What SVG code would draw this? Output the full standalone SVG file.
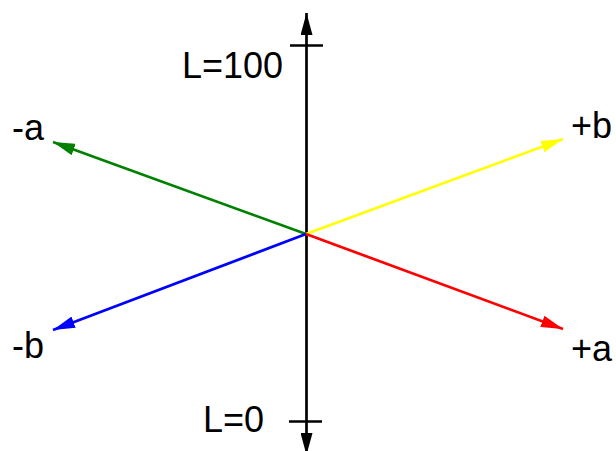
<svg xmlns="http://www.w3.org/2000/svg" width="616" height="451" viewBox="0 0 616 451">
<style>
.lbl{font-family:"Liberation Sans",Arial,sans-serif;font-size:36px;fill:#000}
.ax{stroke-width:2.7;fill:none}
</style>
<defs>
<marker id="mkK" viewBox="0 0 22 12" refX="22" refY="6" markerWidth="22" markerHeight="12" markerUnits="userSpaceOnUse" orient="auto"><path d="M0,0 L22,6 L0,12 Z" fill="#000"/></marker>
<marker id="mkG" viewBox="0 0 22 12" refX="22" refY="6" markerWidth="22" markerHeight="12" markerUnits="userSpaceOnUse" orient="auto"><path d="M0,0 L22,6 L0,12 Z" fill="#008000"/></marker>
<marker id="mkY" viewBox="0 0 22 12" refX="22" refY="6" markerWidth="22" markerHeight="12" markerUnits="userSpaceOnUse" orient="auto"><path d="M0,0 L22,6 L0,12 Z" fill="#ffff00"/></marker>
<marker id="mkB" viewBox="0 0 22 12" refX="22" refY="6" markerWidth="22" markerHeight="12" markerUnits="userSpaceOnUse" orient="auto"><path d="M0,0 L22,6 L0,12 Z" fill="#0000ff"/></marker>
<marker id="mkR" viewBox="0 0 22 12" refX="22" refY="6" markerWidth="22" markerHeight="12" markerUnits="userSpaceOnUse" orient="auto"><path d="M0,0 L22,6 L0,12 Z" fill="#ff0000"/></marker>
</defs>
<rect width="616" height="451" fill="#fff"/>
<g id="connectors">
<line id="axis-up" class="ax" x1="306.5" y1="234" x2="306.5" y2="13" stroke="#000" stroke-width="3" marker-end="url(#mkK)"/>
<line id="axis-down" class="ax" x1="306.5" y1="234" x2="306.5" y2="455" stroke="#000" stroke-width="3" marker-end="url(#mkK)"/>
<line id="tick-top" x1="290" y1="45.5" x2="323" y2="45.5" stroke="#000" stroke-width="2.5"/>
<line id="tick-bottom" x1="289" y1="421.5" x2="322" y2="421.5" stroke="#000" stroke-width="2.5"/>
<line id="arrow-minus-a" class="ax" x1="306" y1="234" x2="53" y2="142" stroke="#008000" marker-end="url(#mkG)"/>
<line id="arrow-plus-b" class="ax" x1="306" y1="234" x2="563" y2="139" stroke="#ffff00" marker-end="url(#mkY)"/>
<line id="arrow-minus-b" class="ax" x1="306" y1="234" x2="53" y2="330" stroke="#0000ff" marker-end="url(#mkB)"/>
<line id="arrow-plus-a" class="ax" x1="306" y1="234" x2="563" y2="329" stroke="#ff0000" marker-end="url(#mkR)"/>
</g>
<g id="label-L100"><text class="lbl" x="182" y="78">L=100</text></g>
<g id="label-L0"><text class="lbl" x="203" y="432">L=0</text></g>
<g id="label-minus-a"><text class="lbl" x="12" y="140">-a</text></g>
<g id="label-plus-b"><text class="lbl" x="571" y="138">+b</text></g>
<g id="label-minus-b"><text class="lbl" x="12" y="358">-b</text></g>
<g id="label-plus-a"><text class="lbl" x="571" y="361">+a</text></g>
</svg>
